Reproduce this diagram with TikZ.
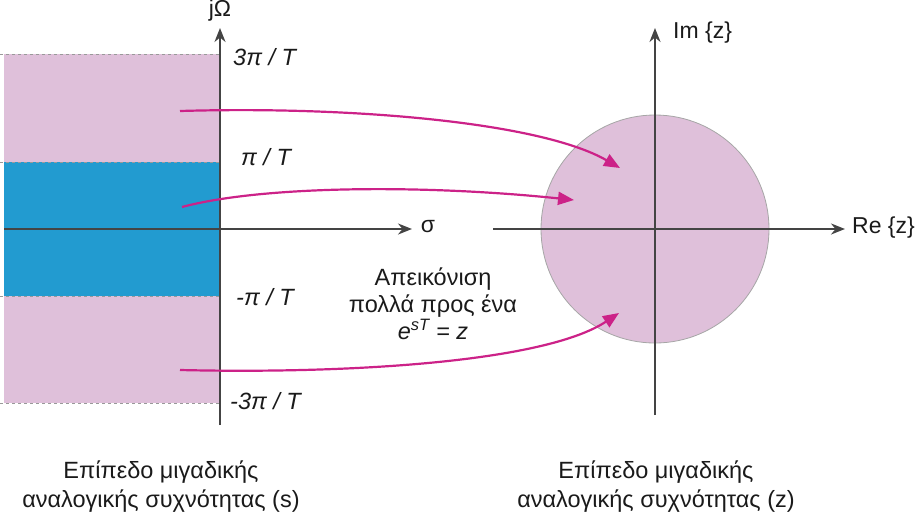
\documentclass[tikz,border=0pt]{standalone}
\usepackage{fontspec}
\setmainfont{Liberation Sans}
\usetikzlibrary{arrows.meta}
\definecolor{pinkfill}{HTML}{DFC0DA}
\definecolor{bluefill}{HTML}{229BD0}
\definecolor{mag}{HTML}{CC2288}
\definecolor{axisc}{HTML}{444444}
\definecolor{txt}{HTML}{1A1A1A}
\tikzset{
  axis/.style={draw=axisc,line width=2pt,-{Stealth[length=14pt,width=11pt]}},
  mapline/.style={draw=mag,line width=2.2pt,-{Triangle[length=16pt,width=13pt]}},
  dashline/.style={draw=gray!80,dashed,line width=0.8pt},
  lbl/.style={text=txt,font=\fontsize{23}{25}\selectfont,inner sep=0pt},
  ilbl/.style={text=txt,font=\fontsize{23.5}{25}\selectfont\itshape,inner sep=0pt,anchor=west},
  captxt/.style={text=txt,font=\fontsize{23.5}{29}\selectfont,align=center,inner sep=0pt}
}
\begin{document}
\begin{tikzpicture}[x=1pt,y=-1pt]
\useasboundingbox (0,0) rectangle (918,515);
% s-plane strips
\fill[pinkfill] (4,54) rectangle (220,403);
\fill[bluefill] (4,162) rectangle (220,296);
\foreach \yy in {54,162,296,403} \draw[dashline] (0,\yy) -- (220,\yy);
% s-plane axes
\coordinate (sx0) at (4,229);
\coordinate (sx1) at (412,229);
\coordinate (sy0) at (220,425);
\coordinate (sy1) at (220,28);
\draw[axis] (sx0) -- (sx1);
\draw[axis] (sy0) -- (sy1);
\node[lbl] (jw) at (220,11) {jΩ};
\node[lbl] (sig) at (428,227) {σ};
\node[ilbl] (l3p) at (233,57) {3π / T};
\node[ilbl] (l1p) at (241,157) {π / T};
\node[ilbl] (l1m) at (236,297) {-π / T};
\node[ilbl] (l3m) at (230,401) {-3π / T};
% z-plane
\node[circle,fill=pinkfill,draw=gray!70,line width=0.8pt,minimum size=228pt,inner sep=0pt] (uc) at (655,229) {};
\coordinate (zx0) at (493,229);
\coordinate (zx1) at (845,229);
\coordinate (zy0) at (655,415);
\coordinate (zy1) at (655,28);
\draw[axis] (zx0) -- (zx1);
\draw[axis] (zy0) -- (zy1);
\node[lbl,anchor=west] (im) at (673,33) {Im \{z\}};
\node[lbl,anchor=west] (re) at (852,228) {Re \{z\}};
% mapping arrows
\coordinate (a1s) at (180,111);
\coordinate (a1e) at (620,168);
\coordinate (a2s) at (182,207);
\coordinate (a2e) at (574,200);
\coordinate (a3s) at (180,370);
\coordinate (a3e) at (619,313);
\draw[mapline] (a1s) .. controls (350,106) and (540,122) .. (a1e);
\draw[mapline] (a2s) .. controls (260,186) and (420,184) .. (a2e);
\draw[mapline] (a3s) .. controls (350,374) and (545,362) .. (a3e);
% mapping text
\node[lbl,align=center,font=\fontsize{23.5}{27}\selectfont] (maptxt) at (433,304) {Απεικόνιση\\πολλά προς ένα\\{\itshape e\textsuperscript{sT} = z}};
% captions
\node[captxt] (caps) at (161,487) {Επίπεδο μιγαδικής\\αναλογικής συχνότητας (s)};
\node[captxt] (capz) at (656,487) {Επίπεδο μιγαδικής\\αναλογικής συχνότητας (z)};
\end{tikzpicture}
\end{document}
